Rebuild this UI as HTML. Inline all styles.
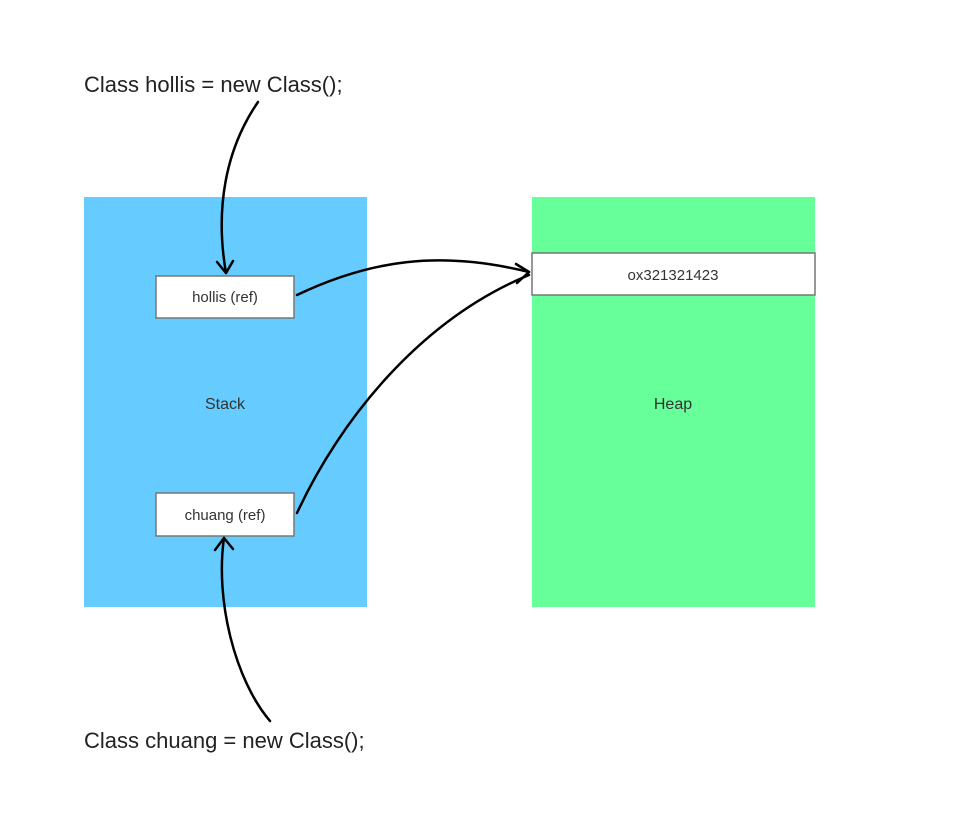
<!DOCTYPE html>
<html><head><meta charset="utf-8"><style>
body{margin:0;width:956px;height:814px;background:#fff;overflow:hidden;font-family:"Liberation Sans",sans-serif}
</style></head><body>
<svg width="956" height="814" viewBox="0 0 956 814" xmlns="http://www.w3.org/2000/svg" style="position:absolute;left:0;top:0">
<rect x="84" y="197" width="283" height="410" fill="#66ccff"/>
<rect x="532" y="197" width="283" height="410" fill="#66ff99"/>
<rect x="532" y="253" width="283" height="42" fill="#fff" stroke="#777" stroke-width="1.5"/>
<rect x="156" y="276" width="138" height="42" fill="#fff" stroke="#777" stroke-width="1.5"/>
<rect x="156" y="493" width="138" height="43" fill="#fff" stroke="#777" stroke-width="1.5"/>
<g font-family="Liberation Sans, sans-serif" fill="#333">
<text x="673" y="280" font-size="15" text-anchor="middle">ox321321423</text>
<text x="225" y="302" font-size="15" text-anchor="middle">hollis  (ref)</text>
<text x="225" y="520" font-size="15" text-anchor="middle">chuang (ref)</text>
<text x="225" y="409" font-size="16" text-anchor="middle">Stack</text>
<text x="673" y="409" font-size="16" text-anchor="middle">Heap</text>
</g>
<g font-family="Liberation Sans, sans-serif" fill="#222" font-size="22">
<text x="84" y="92">Class hollis = new Class();</text>
<text x="84" y="748">Class chuang = new Class();</text>
</g>
<g fill="none" stroke="#000" stroke-width="2.5" stroke-linecap="round" stroke-linejoin="round">
<path d="M258 102 C225 150 215 210 226 273"/>
<path d="M217 262 L226 273 L233 261"/>
<path d="M297 295 C370 260 440 250 529 272"/>
<path d="M516 264 L529 272 L517 283"/>
<path d="M297 513 C340 420 420 320 529 275"/>
<path d="M270 721 C235 680 215 600 224 538"/>
<path d="M215 550 L224 538 L233 549"/>
</g>
</svg>
</body></html>
